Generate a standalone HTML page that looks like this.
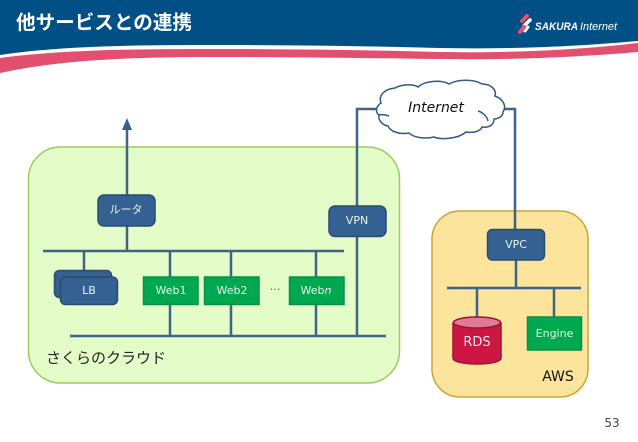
<!DOCTYPE html>
<html><head><meta charset="utf-8"><style>
html,body{margin:0;padding:0;background:#fff;width:638px;height:442px;overflow:hidden}
svg{display:block}
text{font-family:"DejaVu Sans","Noto Sans CJK JP",sans-serif}
.l{fill:#e6f5e6;font-size:11px;text-anchor:middle}
.n{fill:#346092;stroke:#2b4a6e;stroke-width:1.5}
.g{fill:#00a94f;stroke:#0b8f47;stroke-width:1.5}
.w{stroke:#3f6484;stroke-width:2.5;fill:none}
</style></head><body>
<svg width="638" height="442" viewBox="0 0 638 442" xmlns="http://www.w3.org/2000/svg">
<rect width="638" height="60" fill="#fff"/>
<path d="M0 0H638V41C560 48 500 49 440 48C360 46 300 45 213 45C130 45 60 46 0 55Z" fill="#004f85"/>
<path d="M0 58C60 50 130 49 213 49C300 49 360 50 440 52C500 53 570 51 638 43V52C570 58 500 60 440 59C360 58 300 57 213 57C130 57 60 60 0 73Z" fill="#e3506f"/>
<text x="16" y="29" font-size="19.500" font-weight="bold" fill="#fff" style="font-family:'Noto Sans CJK JP',sans-serif" textLength="176" lengthAdjust="spacingAndGlyphs">他サービスとの連携</text>
<g stroke-linecap="round" fill="none">
<path d="M527 16L522 21" stroke="#e3506f" stroke-width="4"/>
<path d="M530 20L524 26" stroke="#fff" stroke-width="3.500"/>
<path d="M528 27L525 31" stroke="#fff" stroke-width="3"/>
<path d="M524 27L520 32" stroke="#e3506f" stroke-width="4"/>
</g>
<text x="535" y="30" font-size="11" font-style="italic" font-weight="bold" fill="#fff" style="font-family:'Liberation Sans',sans-serif" textLength="43" lengthAdjust="spacingAndGlyphs">SAKURA</text>
<text x="580" y="30" font-size="11" font-style="italic" fill="#fff" style="font-family:'Liberation Sans',sans-serif" textLength="37" lengthAdjust="spacingAndGlyphs">Internet</text>

<rect x="28.500" y="147" width="371" height="236" rx="32" fill="#e4fcc8" stroke="#9ccb5c" stroke-width="1.500"/>
<rect x="432" y="211" width="156" height="186" rx="28" fill="#fde49c" stroke="#c9a53b" stroke-width="1.500"/>

<path class="w" d="M127 128V251M43 251H344M84 251V271M170 251V336M231 251V336M316 251V336M70 336H386M357 336V109H377"/>
<path class="w" d="M503 109H515V230M516 245V288M447 288H581M477 288V317M554 288V318"/>
<path d="M127 118L132 130H122Z" fill="#346092"/>

<path d="M381 103C378 95 385 89 395 88C402 84 414 84 418 87C426 80 442 80 449 84C458 79 474 79 482 84C490 84 497 89 495 96C503 99 507 106 503 112C503 117 497 119 494 119C494 125 489 128 482 127C480 132 472 133 466 132C458 139 441 140 434 137C426 139 414 138 409 133C399 135 390 131 388 126C382 125 378 120 379 115C375 112 376 106 381 103Z" fill="#fff" stroke="#2f5a84" stroke-width="1.500"/>
<path d="M379 115C382 114 386 115 389 116M478 111C482 112 487 116 488 121" fill="none" stroke="#2f5a84" stroke-width="1.500"/>
<text x="436" y="112" font-size="14" font-style="italic" fill="#111" text-anchor="middle">Internet</text>

<rect class="n" x="98" y="195" width="57" height="31" rx="6"/>
<text class="l" x="126" y="213" style="font-family:'Noto Sans CJK JP',sans-serif">ルータ</text>
<rect class="n" x="54.500" y="270.500" width="57" height="27" rx="5"/>
<rect class="n" x="60.500" y="277" width="57" height="27.500" rx="5"/>
<text class="l" x="89" y="294">LB</text>
<rect class="g" x="143.500" y="277" width="54.500" height="27.500"/>
<text class="l" x="171" y="294">Web1</text>
<rect class="g" x="204.500" y="277" width="54.500" height="27.500"/>
<text class="l" x="232" y="294">Web2</text>
<rect class="g" x="289.500" y="277" width="54.500" height="27.500"/>
<text class="l" x="316" y="294">Web<tspan font-style="italic">n</tspan></text>
<text x="275" y="290" font-size="11" fill="#666" text-anchor="middle">…</text>
<rect class="n" x="329" y="206" width="57" height="30.500" rx="6"/>
<text class="l" x="357" y="224">VPN</text>
<text x="46" y="363" font-size="15" fill="#222" style="font-family:'Noto Sans CJK JP',sans-serif">さくらのクラウド</text>

<rect class="n" x="487.500" y="229.500" width="57" height="30.500" rx="5"/>
<text class="l" x="516" y="248">VPC</text>
<path d="M453 323V358C453 366 501 366 501 358V323Z" fill="#cc1744" stroke="#9c1238" stroke-width="1.500"/>
<ellipse cx="477" cy="322.500" rx="23.500" ry="5.500" fill="#e07a95" stroke="#9c1238" stroke-width="1.500"/>
<text x="477" y="346" font-size="13" fill="#f6e3e8" text-anchor="middle">RDS</text>
<rect class="g" x="527.500" y="317" width="54" height="33"/>
<text class="l" x="554.500" y="337">Engine</text>
<text x="558" y="381" font-size="14" fill="#111" text-anchor="middle">AWS</text>
<text x="612" y="427" font-size="12" fill="#444" text-anchor="middle">53</text>
</svg>
</body></html>
